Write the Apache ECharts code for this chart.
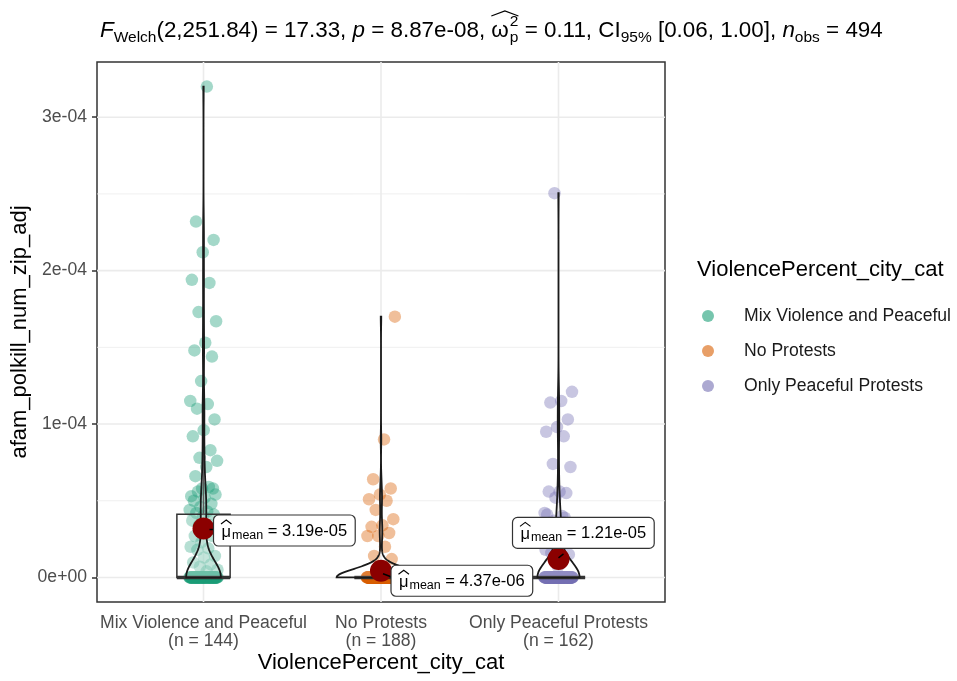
<!DOCTYPE html>
<html>
<head>
<meta charset="utf-8">
<script src="https://cdn.jsdelivr.net/npm/echarts@6/dist/echarts.min.js"></script>
<style>
  html, body { margin: 0; padding: 0; background: #ffffff; }
  #chart { width: 957px; height: 681px; }
</style>
</head>
<body>
<div id="chart"></div>
<script>
// ---- data ---------------------------------------------------------------
const categories = ['Mix Violence and Peaceful', 'No Protests', 'Only Peaceful Protests'];

// non-zero observations of afam_polkill_num_zip_adj per group, in units of 1e-5
const mixNonZero = [
  32.0, 23.2, 22.0, 21.2, 19.4, 19.2, 17.3, 16.7, 15.3, 14.8, 14.4, 12.8, 11.5,
  11.3, 11.0, 10.3, 9.6, 9.2, 8.3, 7.8, 7.6, 7.2, 6.6, 5.8, 5.8, 5.3,
  5.9, 5.6, 5.4, 5.2, 5.0, 4.8, 4.6, 4.4, 4.3, 4.2,
  4.1, 4.0, 3.7, 3.4, 3.4, 3.1, 2.9, 2.7, 2.7, 2.3,
  2.0, 1.9, 1.8, 1.4, 1.3, 0.98, 0.85, 0.7, 0.5, 0.4
];
const noProtestNonZero = [
  17.0, 9.0, 6.4, 5.8, 5.4, 5.1, 5.0, 4.4, 3.8, 3.4, 3.3, 2.9, 2.7, 2.7,
  2.0, 1.4, 1.2, 0.65
];
const peacefulNonZero = [
  25.05, 12.1, 11.5, 11.4, 10.3, 9.8, 9.5, 9.2, 7.4, 7.2, 5.6, 5.6, 5.5, 5.2,
  4.2, 4.0, 1.6, 1.5, 0.7, 4.1, 3.9, 3.7, 3.4, 3.0, 2.7, 2.4, 2.1, 1.8,
  3.6, 3.3, 2.9, 2.6, 3.5, 3.2, 2.8
];
// number of observations equal to zero in each group
const zeroCounts = [88, 170, 127];

// group means as reported in the labels
const groupMeans = [3.19e-5, 4.37e-6, 1.21e-5];

// axis ticks
const yMajorTicks = [0, 1e-4, 2e-4, 3e-4];
const yMinorTicks = [5e-5, 1.5e-4, 2.5e-4];

// ---- styling ------------------------------------------------------------
const FONT = '"Liberation Sans", Arial, Helvetica, sans-serif';
const POINT_COLORS = ['#1B9E77', '#D95F02', '#7570B3'];
const KEY_COLORS = ['#76C5AD', '#E89F67', '#ACA9D1'];
const MEAN_COLOR = '#8B0000';

// ---- statistics ---------------------------------------------------------
const groups = [mixNonZero, noProtestNonZero, peacefulNonZero].map((nz, i) =>
  nz.map(v => v * 1e-5).concat(new Array(zeroCounts[i]).fill(0)));

function quantile(sorted, p) {
  const h = (sorted.length - 1) * p;
  const lo = Math.floor(h);
  const hi = Math.min(lo + 1, sorted.length - 1);
  return sorted[lo] + (h - lo) * (sorted[hi] - sorted[lo]);
}
function stdev(a) {
  const m = a.reduce((s, v) => s + v, 0) / a.length;
  return Math.sqrt(a.reduce((s, v) => s + (v - m) * (v - m), 0) / (a.length - 1));
}
function bwNrd0(a) {
  const sorted = a.slice().sort((x, y) => x - y);
  const hi = stdev(a);
  let lo = Math.min(hi, (quantile(sorted, 0.75) - quantile(sorted, 0.25)) / 1.349);
  if (!lo) lo = hi || Math.abs(a[0]) || 1;
  return 0.9 * lo * Math.pow(a.length, -0.2);
}
function density(a, n) {
  const bw = bwNrd0(a);
  const min = Math.min(...a), max = Math.max(...a);
  const norm = 1 / (a.length * bw * Math.sqrt(2 * Math.PI));
  const ys = [], ds = [];
  for (let k = 0; k < n; k++) {
    const y = min + (max - min) * k / (n - 1);
    let s = 0;
    for (const v of a) { const z = (y - v) / bw; s += Math.exp(-0.5 * z * z); }
    ys.push(y); ds.push(s * norm);
  }
  return { ys, ds };
}
const violins = groups.map(g => density(g, 512));
const maxDensity = Math.max(...violins.map(v => Math.max(...v.ds)));

const boxStats = groups.map(g => {
  const s = g.slice().sort((x, y) => x - y);
  const q1 = quantile(s, 0.25), med = quantile(s, 0.5), q3 = quantile(s, 0.75);
  const iqr = q3 - q1;
  const hiW = Math.max(...s.filter(v => v <= q3 + 1.5 * iqr));
  const loW = Math.min(...s.filter(v => v >= q1 - 1.5 * iqr));
  return { q1, med, q3, hiW, loW };
});

const allMax = Math.max(...groups.map(g => Math.max(...g)));
const yMin = -0.05 * allMax, yMax = allMax * 1.05;

// deterministic horizontal spread of the points around each category
const PHI = 0.6180339887498949;
function spread(i, j) {
  const f = ((j + 1) * PHI + i * 0.37) % 1;
  return (2 * f - 1) * 0.08;
}

// ---- formatting helpers -------------------------------------------------
function sciLabel(v, digits) {
  if (v === 0) return (0).toFixed(digits) + 'e+00';
  const [m, e] = v.toExponential(digits).split('e');
  const n = parseInt(e, 10);
  return m + 'e' + (n < 0 ? '-' : '+') + String(Math.abs(n)).padStart(2, '0');
}
const measureCtx = document.createElement('canvas').getContext('2d');
function fontStr(size, italic) { return (italic ? 'italic ' : '') + size + 'px ' + FONT; }
function textWidth(t, size, italic) { measureCtx.font = fontStr(size, italic); return measureCtx.measureText(t).width; }
function textEl(t, x, y, size, opts) {
  opts = opts || {};
  return {
    type: 'text', x, y, rotation: opts.rotation || 0, silent: true, z: 100,
    style: {
      text: t, fill: opts.color || '#000', fontSize: size, fontFamily: FONT,
      fontStyle: opts.italic ? 'italic' : 'normal',
      align: opts.align || 'left', verticalAlign: 'middle'
    }
  };
}

// ---- statistical subtitle (plotmath-like layout) -------------------------
function buildSubtitle(x0, cy) {
  const M = 22.4, S = 15.5, SUBDY = 6.5, SUPDY = -9;
  const els = [];
  let x = x0;
  const put = (t, size, dy, italic) => {
    els.push(textEl(t, x, cy + dy, size, { italic }));
    x += textWidth(t, size, italic);
  };
  put('F', M, 0, true);
  put('Welch', S, SUBDY, false);
  put('(2,251.84) = 17.33, ', M, 0, false);
  put('p', M, 0, true);
  put(' = 8.87e-08, ', M, 0, false);
  // omega with stacked super/subscript under a wide hat
  const ox = x;
  const wo = textWidth('\u03c9', M, false);
  els.push(textEl('\u03c9', x, cy, M));
  x += wo + 1;
  els.push(textEl('2', x, cy + SUPDY, S));
  els.push(textEl('p', x, cy + SUBDY, S));
  x += Math.max(textWidth('2', S), textWidth('p', S));
  els.push({
    type: 'polyline', silent: true, z: 100,
    shape: { points: [[ox, cy - 15], [(ox + x) / 2, cy - 20], [x, cy - 15]] },
    style: { stroke: '#000', lineWidth: 1.2, fill: null }
  });
  put(' = 0.11, CI', M, 0, false);
  put('95%', S, SUBDY, false);
  put(' [0.06, 1.00], ', M, 0, false);
  put('n', M, 0, true);
  put('obs', S, SUBDY, false);
  put(' = 494', M, 0, false);
  return els;
}

// ---- chart --------------------------------------------------------------
const chart = echarts.init(document.getElementById('chart'), null, { renderer: 'canvas' });

const GRID = { left: 97, right: 292, top: 62, bottom: 79 };
const labelOffsets = [[10, 2], [10, 10], [-46, -26]];
const segmentOffsets = [[[6, 1], [10, 1]], [[2, 3], [10, 6]], [[0, -1], [5, -5]]];

const pointSeries = groups.map((g, i) => ({
  name: categories[i],
  type: 'scatter',
  z: 2,
  symbol: 'circle',
  symbolSize: 12.5,
  itemStyle: { color: POINT_COLORS[i], opacity: 0.4 },
  emphasis: { disabled: true },
  data: g.map((v, j) => [i + 1 + spread(i, j), v])
}));

const option = {
  animation: false,
  grid: Object.assign({ show: true, borderColor: '#333333', borderWidth: 1.5, backgroundColor: '#ffffff' }, GRID),
  xAxis: {
    type: 'value', min: 0.4, max: 3.6,
    axisLine: { show: false },
    axisTick: { show: true, customValues: [1, 2, 3], length: 5, lineStyle: { color: '#333333', width: 1.5 } },
    axisLabel: {
      customValues: [1, 2, 3],
      formatter: v => {
        const i = Math.round(v) - 1;
        return categories[i] + '\n(n = ' + groups[i].length + ')';
      },
      color: '#4D4D4D', fontSize: 17.6, lineHeight: 18, fontFamily: FONT, margin: 12
    },
    splitLine: { show: false }
  },
  yAxis: {
    type: 'value', min: yMin, max: yMax,
    axisLine: { show: false },
    axisTick: { show: true, customValues: yMajorTicks, length: 5, lineStyle: { color: '#333333', width: 1.5 } },
    axisLabel: {
      customValues: yMajorTicks,
      formatter: v => sciLabel(v, 0),
      color: '#4D4D4D', fontSize: 17.6, fontFamily: FONT, margin: 10
    },
    splitLine: { show: false }
  },
  legend: {
    orient: 'vertical', left: 697, top: 301,
    itemWidth: 62, itemHeight: 12, itemGap: 15,
    selectedMode: false,
    textStyle: { fontSize: 17.6, lineHeight: 20, color: '#1A1A1A', fontFamily: FONT },
    data: categories.map((c, i) => ({ name: c, icon: 'circle', itemStyle: { color: KEY_COLORS[i], opacity: 1 } }))
  },
  graphic: [
    ...buildSubtitle(100, 31),
    textEl('ViolencePercent_city_cat', 381, 663, 22, { align: 'center' }),
    textEl('afam_polkill_num_zip_adj', 20, 332, 22, { align: 'center', rotation: Math.PI / 2 }),
    textEl('ViolencePercent_city_cat', 697, 270, 22)
  ],
  series: [
    // panel grid lines
    {
      type: 'custom', z: 1, silent: true, data: [[1, 0]],
      renderItem(params, api) {
        const cs = params.coordSys;
        const children = [];
        yMinorTicks.forEach(v => {
          const y = api.coord([1, v])[1];
          children.push({ type: 'line', shape: { x1: cs.x, y1: y, x2: cs.x + cs.width, y2: y }, style: { stroke: '#EBEBEB', lineWidth: 0.8 } });
        });
        yMajorTicks.forEach(v => {
          const y = api.coord([1, v])[1];
          children.push({ type: 'line', shape: { x1: cs.x, y1: y, x2: cs.x + cs.width, y2: y }, style: { stroke: '#EBEBEB', lineWidth: 1.6 } });
        });
        [1, 2, 3].forEach(v => {
          const x = api.coord([v, 0])[0];
          children.push({ type: 'line', shape: { x1: x, y1: cs.y, x2: x, y2: cs.y + cs.height }, style: { stroke: '#EBEBEB', lineWidth: 1.6 } });
        });
        return { type: 'group', children };
      }
    },
    ...pointSeries,
    // box plots
    {
      type: 'custom', z: 3, silent: true, data: [[1, 0], [2, 0], [3, 0]],
      renderItem(params, api) {
        const i = params.dataIndex, s = boxStats[i], x = i + 1;
        const tl = api.coord([x - 0.15, s.q3]), br = api.coord([x + 0.15, s.q1]);
        const stroke = { stroke: '#333333', lineWidth: 1.5 };
        const up0 = api.coord([x, s.q3]), up1 = api.coord([x, s.hiW]);
        const dn0 = api.coord([x, s.q1]), dn1 = api.coord([x, s.loW]);
        const m0 = api.coord([x - 0.15, s.med]), m1 = api.coord([x + 0.15, s.med]);
        return {
          type: 'group', children: [
            { type: 'line', shape: { x1: up0[0], y1: up0[1], x2: up1[0], y2: up1[1] }, style: stroke },
            { type: 'line', shape: { x1: dn0[0], y1: dn0[1], x2: dn1[0], y2: dn1[1] }, style: stroke },
            { type: 'rect', shape: { x: tl[0], y: tl[1], width: br[0] - tl[0], height: br[1] - tl[1] },
              style: { fill: 'rgba(255,255,255,0.2)', stroke: '#333333', lineWidth: 1.5 } },
            { type: 'line', shape: { x1: m0[0], y1: m0[1], x2: m1[0], y2: m1[1] }, style: { stroke: '#333333', lineWidth: 3.5 } }
          ]
        };
      }
    },
    // violins (area-scaled kernel density, width 0.5)
    {
      type: 'custom', z: 4, silent: true, data: [[1, 0], [2, 0], [3, 0]],
      renderItem(params, api) {
        const i = params.dataIndex, v = violins[i], x = i + 1;
        const left = [], right = [];
        for (let k = 0; k < v.ys.length; k++) {
          const hw = 0.25 * v.ds[k] / maxDensity;
          left.push(api.coord([x - hw, v.ys[k]]));
          right.push(api.coord([x + hw, v.ys[k]]));
        }
        return {
          type: 'polygon',
          shape: { points: left.concat(right.reverse()) },
          style: { fill: 'rgba(255,255,255,0.2)', stroke: '#1A1A1A', lineWidth: 1.8 }
        };
      }
    },
    // group means
    {
      name: 'mean', type: 'scatter', z: 5, symbol: 'circle', symbolSize: 22,
      itemStyle: { color: MEAN_COLOR, opacity: 1 },
      emphasis: { disabled: true },
      data: groupMeans.map((m, i) => [i + 1, m])
    },
    // mean labels
    {
      type: 'custom', z: 6, silent: true, data: groupMeans.map((m, i) => [i + 1, m]),
      renderItem(params, api) {
        const i = params.dataIndex;
        const c = api.coord([i + 1, groupMeans[i]]);
        const MAIN = 16.5, SUB = 12.5, PADX = 8, H = 31;
        const rest = ' = ' + sciLabel(groupMeans[i], 2);
        const wMu = textWidth('\u03bc', MAIN), wSub = textWidth('mean', SUB), wRest = textWidth(rest, MAIN);
        const W = PADX * 2 + wMu + 1 + wSub + wRest;
        const x0 = c[0] + labelOffsets[i][0], cy = c[1] + labelOffsets[i][1];
        const sg = segmentOffsets[i];
        const mx = x0 + PADX;
        const t = (s, x, y, size) => ({
          type: 'text', x, y,
          style: { text: s, fill: '#000', fontSize: size, fontFamily: FONT, align: 'left', verticalAlign: 'middle' }
        });
        return {
          type: 'group', children: [
            { type: 'line', shape: { x1: c[0] + sg[0][0], y1: c[1] + sg[0][1], x2: c[0] + sg[1][0], y2: c[1] + sg[1][1] },
              style: { stroke: '#000', lineWidth: 1.5 } },
            { type: 'rect', shape: { x: x0, y: cy - H / 2, width: W, height: H, r: 5 },
              style: { fill: '#ffffff', stroke: '#333333', lineWidth: 1.2 } },
            t('\u03bc', mx, cy + 1.5, MAIN),
            { type: 'polyline', shape: { points: [[mx - 0.5, cy - 6.5], [mx + wMu / 2, cy - 10.5], [mx + wMu + 0.5, cy - 6.5]] },
              style: { stroke: '#000', lineWidth: 1.1, fill: null } },
            t('mean', mx + wMu + 1, cy + 5, SUB),
            t(rest, mx + wMu + 1 + wSub, cy + 0.5, MAIN)
          ]
        };
      }
    }
  ]
};

chart.setOption(option);
</script>
</body>
</html>
